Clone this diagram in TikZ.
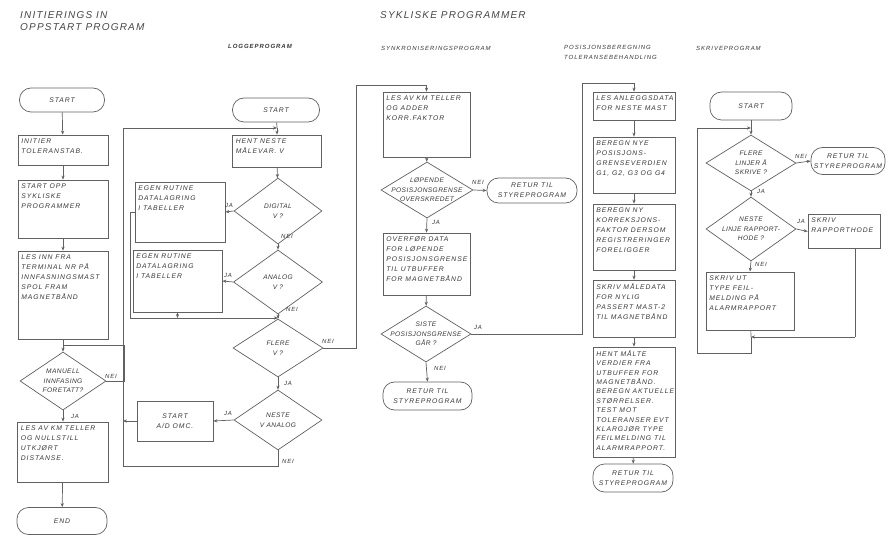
\documentclass[tikz,border=0pt]{standalone}
\usepackage{fontspec}
\setmainfont{Liberation Sans}
\newfontfamily\boxfont[LetterSpace=14]{Liberation Sans}
\newfontfamily\decfont[LetterSpace=6]{Liberation Sans}
\newfontfamily\headfont[LetterSpace=12]{Liberation Sans}
\newfontfamily\subfont[LetterSpace=16]{Liberation Sans}
\usetikzlibrary{shapes.geometric,arrows.meta}

\tikzset{
  ink/.style={draw=black!62, line width=0.7pt},
  ff/.style={font=\boxfont\itshape\fontsize{6.8}{10}\selectfont, text=black!78},
  ffs/.style={font=\boxfont\itshape\fontsize{6.8}{9.4}\selectfont, text=black!78},
  ffd/.style={font=\decfont\itshape\fontsize{6.6}{9.5}\selectfont, text=black!78},
  line/.style={ink},
  arr/.style={ink, -{Stealth[length=4pt,width=3.2pt]}},
  proc/.style={ink, rectangle, inner sep=0pt},
  bt/.style={label={[ff, align=left, anchor=north west, inner sep=3.5pt]north west:{#1}}},
  btt/.style={label={[ffs, align=left, anchor=north west, inner sep=3.5pt]north west:{#1}}},
  dt/.style={label={[ffd, align=center, inner sep=0pt]center:{#1}}},
  term/.style={ink, rectangle, rounded corners=11.5pt, inner sep=0pt, ff, align=center},
  dec/.style={ink, diamond, inner sep=0pt},
  yn/.style={font=\boxfont\itshape\fontsize{6}{7}\selectfont, text=black!78, inner sep=0pt},
  ttl/.style={font=\headfont\itshape\fontsize{10}{12}\selectfont, text=black!72, align=left, inner sep=0pt, anchor=north west},
  sub/.style={font=\subfont\itshape\fontsize{6}{10}\selectfont, text=black!78, align=left, inner sep=0pt, anchor=north west},
}

\begin{document}
\begin{tikzpicture}[x=1pt,y=-1pt]
\fill[white] (0,0) rectangle (895,540);
\useasboundingbox (0,0) rectangle (895,540);

% ---------- headings ----------
\node[ttl] (h1) at (20,11) {INITIERINGS IN\\OPPSTART PROGRAM};
\node[ttl] (h2) at (380,11) {SYKLISKE PROGRAMMER};
\node[sub, font=\subfont\bfseries\itshape\fontsize{6}{10}\selectfont] (h3) at (228,44) {LOGGEPROGRAM};
\node[sub] (h4) at (381,46) {SYNKRONISERINGSPROGRAM};
\node[sub] (h5) at (564,45) {POSISJONSBEREGNING\\TOLERANSEBEHANDLING};
\node[sub] (h6) at (696,46) {SKRIVEPROGRAM};

% ---------- initiering og oppstart ----------
\node[term, minimum width=85, minimum height=24] (c1s) at (62,100) {START};
\node[proc, minimum width=90, minimum height=30, bt={INITIER\\TOLERANSTAB.}] (c1a) at (63,150) {};
\node[proc, minimum width=90, minimum height=58, bt={START OPP\\SYKLISKE\\PROGRAMMER}] (c1b) at (63,209) {};
\node[proc, minimum width=90, minimum height=88, bt={LES INN FRA\\TERMINAL NR PÅ\\INNFASNINGSMAST\\SPOL FRAM\\MAGNETBÅND}] (c1c) at (63,295) {};
\coordinate (m1) at (63,345);
\node[dec, minimum width=86, minimum height=58, dt={MANUELL\\INNFASING\\FORETATT?}] (c1d) at (63,381) {};
\node[proc, minimum width=91, minimum height=60, bt={LES AV KM TELLER\\OG NULLSTILL\\UTKJØRT\\DISTANSE.}] (c1e) at (63,452) {};
\node[term, minimum width=90, minimum height=27] (c1end) at (62,521) {END};
\node[yn] (c1n) at (111,376) {NEI};
\node[yn] (c1j) at (75,416) {JA};

\draw[arr] (c1s) -- (c1a);
\draw[arr] (c1a) -- (c1b);
\draw[arr] (c1b) -- (c1c);
\draw[line] (c1c) -- (m1);
\draw[arr] (m1) -- (c1d);
\draw[line] (c1d.east) -- ++(18,0) |- (m1);
\draw[arr] (c1d) -- (c1e);
\draw[arr] (c1e) -- (c1end);

% ---------- loggeprogram ----------
\node[term, minimum width=87, minimum height=24] (l0) at (276,110) {START};
\coordinate (m2) at (277,128);
\node[proc, minimum width=89, minimum height=32, bt={HENT NESTE\\MÅLEVAR. V}] (l1) at (277,151) {};
\node[dec, minimum width=88, minimum height=66, dt={DIGITAL\\V ?}] (l2) at (278,211) {};
\node[proc, minimum width=90, minimum height=60, bt={EGEN RUTINE\\DATALAGRING\\I TABELLER}] (e1) at (180,212) {};
\node[dec, minimum width=89, minimum height=64, dt={ANALOG\\V ?}] (l3) at (278,282) {};
\node[proc, minimum width=89, minimum height=62, bt={EGEN RUTINE\\DATALAGRING\\I TABELLER}] (e2) at (177.5,281) {};
\coordinate (m3) at (278,318);
\coordinate (eb) at (130,318);
\node[dec, minimum width=90, minimum height=58, dt={FLERE\\V ?}] (l4) at (278,348) {};
\node[dec, minimum width=88, minimum height=60, dt={NESTE\\V ANALOG}] (l5) at (278,420) {};
\node[term, rounded corners=0pt, minimum width=76, minimum height=40] (l6) at (175,421) {START\\A/D OMC.};
\coordinate (lb) at (123,466);
\coordinate (lt) at (123,128);

\node[yn] (l2j) at (229,205) {JA};
\node[yn] (l2n) at (287,236) {NEI};
\node[yn] (l3j) at (228,275) {JA};
\node[yn] (l3n) at (292,309) {NEI};
\node[yn] (l4n) at (328,341) {NEI};
\node[yn] (l4j) at (288,383) {JA};
\node[yn] (l5j) at (228,413) {JA};
\node[yn] (l5n) at (288,461) {NEI};

\draw[line] (l0) -- (m2);
\draw[arr] (m2) -- (l1);
\draw[arr] (l1) -- (l2);
\draw[arr] (l2.west) -- (e1.east);
\draw[arr] (l2.south) -- (l3.north);
\draw[arr] (l3.west) -- (e2.east);
\draw[line] (l3.south) -- (m3);
\draw[arr] (m3) -- (l4.north);
\draw[line] (e1.west) -| (eb);
\draw[arr] (eb) -- (m3);
\draw[arr] (e2.south) -- (e2.south |- eb);
\draw[arr] (l4.south) -- (l5.north);
\draw[arr] (l5.west) -- (l6.east);
\draw[arr] (l6.west) -- (l6.west -| lb);
\draw[arr] (l5.south) |- (lb) -- (lt) -- (m2);

% ---------- synkroniseringsprogram ----------
\node[proc, minimum width=87, minimum height=65, bt={LES AV KM TELLER\\OG ADDER\\KORR.FAKTOR}] (s1) at (426.5,124.5) {};
\node[dec, minimum width=92, minimum height=56, dt={LØPENDE\\POSISJONSGRENSE\\OVERSKREDET}] (s2) at (427,190) {};
\node[term, minimum width=90, minimum height=25] (s3) at (532,190.5) {RETUR TIL\\STYREPROGRAM};
\node[proc, minimum width=87, minimum height=62, bt={OVERFØR DATA\\FOR LØPENDE\\POSISJONSGRENSE\\TIL UTBUFFER\\FOR MAGNETBÅND}] (s4) at (426.5,264) {};
\node[dec, minimum width=90, minimum height=56, dt={SISTE\\POSISJONSGRENSE\\GÅR ?}] (s5) at (426,334) {};
\node[term, minimum width=89, minimum height=28] (s6) at (427.5,396) {RETUR TIL\\STYREPROGRAM};
\coordinate (sl) at (356,85);
\coordinate (pl) at (582,83);

\node[yn] (s2n) at (478,182) {NEI};
\node[yn] (s2j) at (436,222) {JA};
\node[yn] (s5j) at (478,327) {JA};
\node[yn] (s5n) at (440,368) {NEI};

\draw[arr] (l4.east) -| (sl) -- (s1.north |- sl) -- (s1.north);
\draw[arr] (s1) -- (s2);
\draw[arr] (s2.east) -- (s3.west);
\draw[arr] (s2.south) -- (s4.north);
\draw[arr] (s4) -- (s5);
\draw[arr] (s5.south) -- (s6.north);

% ---------- posisjonsberegning / toleransebehandling ----------
\node[proc, minimum width=82, minimum height=28, bt={LES ANLEGGSDATA\\FOR NESTE MAST}] (p1) at (634,106) {};
\node[proc, minimum width=82, minimum height=56, bt={BEREGN NYE\\POSISJONS-\\GRENSEVERDIEN\\ G1, G2, G3 OG G4}] (p2) at (634,165) {};
\node[proc, minimum width=82, minimum height=66, bt={BEREGN NY\\KORREKSJONS-\\FAKTOR DERSOM\\REGISTRERINGER\\FORELIGGER}] (p3) at (634,237) {};
\node[proc, minimum width=82, minimum height=57, bt={SKRIV MÅLEDATA\\FOR NYLIG\\PASSERT MAST-2\\TIL MAGNETBÅND}] (p4) at (634,308.5) {};
\node[proc, minimum width=82, minimum height=110, btt={HENT MÅLTE\\VERDIER FRA\\UTBUFFER FOR\\MAGNETBÅND.\\BEREGN AKTUELLE\\STØRRELSER.\\TEST MOT\\TOLERANSER EVT\\KLARGJØR TYPE\\FEILMELDING TIL\\ALARMRAPPORT.}] (p5) at (634,402) {};
\node[term, minimum width=80, minimum height=28] (p6) at (633,478) {RETUR TIL\\STYREPROGRAM};

\draw[arr] (s5.east) -| (pl) -- (p1.north |- pl) -- (p1.north);
\draw[arr] (p1) -- (p2);
\draw[arr] (p2) -- (p3);
\draw[arr] (p3) -- (p4);
\draw[arr] (p4) -- (p5);
\draw[arr] (p5) -- (p6);

% ---------- skriveprogram ----------
\node[term, minimum width=82, minimum height=28] (k0) at (751,106) {START};
\coordinate (mk) at (751,128);
\node[dec, minimum width=90, minimum height=56, dt={FLERE\\LINJER Å\\SKRIVE ?}] (k1) at (751,163) {};
\node[term, minimum width=74, minimum height=27] (k2) at (848,161) {RETUR TIL\\STYREPROGRAM};
\node[dec, minimum width=90, minimum height=64, dt={NESTE\\LINJE RAPPORT-\\HODE ?}] (k3) at (751,229) {};
\node[proc, minimum width=72, minimum height=34, bt={SKRIV\\RAPPORTHODE}] (k4) at (844,231.5) {};
\node[proc, minimum width=88, minimum height=58, bt={SKRIV UT\\TYPE FEIL-\\MELDING PÅ\\ALARMRAPPORT}] (k5) at (750,301) {};
\coordinate (mk2) at (751,337);
\coordinate (kr) at (855,337);
\coordinate (kb) at (751,353);
\coordinate (kl) at (697,353);
\coordinate (kt) at (697,128);

\node[yn] (k1n) at (801,156) {NEI};
\node[yn] (k1j) at (761,191) {JA};
\node[yn] (k3j) at (801,221) {JA};
\node[yn] (k3n) at (761,264) {NEI};

\draw[line] (k0) -- (mk);
\draw[arr] (mk) -- (k1);
\draw[arr] (k1.east) -- (k2.west);
\draw[arr] (k1.south) -- (k3.north);
\draw[arr] (k3.east) -- (k4.west);
\draw[arr] (k3.south) -- (k5.north);
\draw[line] (k5) -- (mk2);
\draw[line] (k4.south -| kr) -- (kr);
\draw[arr] (kr) -- (mk2);
\draw[arr] (mk2) -- (kb) -- (kl) -- (kt) -- (mk);
\end{tikzpicture}
\end{document}
